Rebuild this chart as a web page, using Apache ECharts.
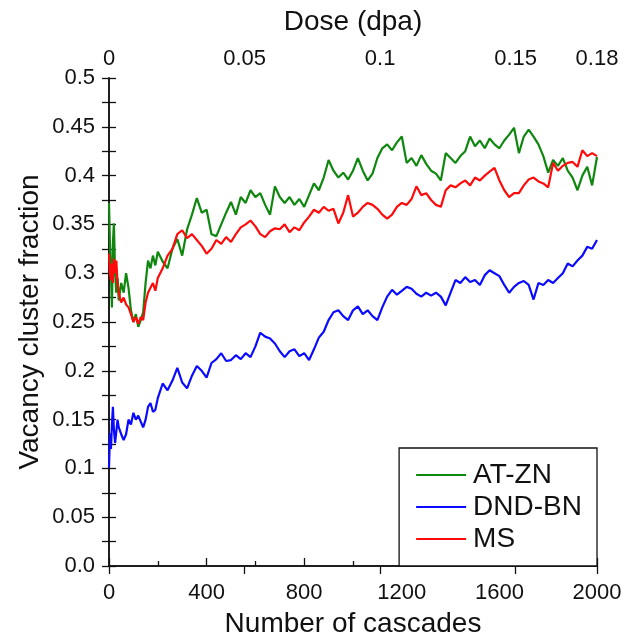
<!DOCTYPE html>
<html>
<head>
<meta charset="utf-8">
<script src="https://cdn.jsdelivr.net/npm/echarts@6/dist/echarts.min.js"></script>
<style>
  html, body { margin: 0; padding: 0; background: #fff; }
</style>
</head>
<body>
<div style="width:624px;height:634px;" id="vac_chart"></div>
<script>
// x positions (number of cascades): finer steps at the start
const cascades = [0, 4, 8, 12, 16, 20, 25, 30, 35];
for (let c = 40; c <= 200; c += 10) cascades.push(c);
for (let c = 220; c <= 2000; c += 20) cascades.push(c);

const atzn = [
  0.372, 0.33, 0.30, 0.265, 0.33, 0.351, 0.30, 0.28, 0.295,
  0.272, 0.29, 0.28, 0.30, 0.285, 0.262, 0.25, 0.258, 0.245, 0.252, 0.26, 0.29, 0.313, 0.305, 0.318, 0.308, 0.322,
  0.312, 0.305, 0.325, 0.335, 0.318, 0.345, 0.36, 0.377, 0.362, 0.365,
  0.34, 0.338, 0.35, 0.362, 0.373, 0.36, 0.378, 0.372, 0.385, 0.378,
  0.382, 0.37, 0.36, 0.389, 0.378, 0.372, 0.378, 0.37, 0.376, 0.368,
  0.38, 0.392, 0.385, 0.398, 0.416, 0.405, 0.398, 0.403, 0.396, 0.405,
  0.418, 0.405, 0.395, 0.402, 0.418, 0.428, 0.432, 0.426, 0.434, 0.44,
  0.413, 0.418, 0.41, 0.421, 0.412, 0.405, 0.402, 0.395, 0.423, 0.418,
  0.413, 0.42, 0.425, 0.44, 0.43, 0.436, 0.428, 0.438, 0.432, 0.428,
  0.436, 0.442, 0.449, 0.423, 0.44, 0.447, 0.44, 0.432, 0.42, 0.403,
  0.416, 0.41, 0.418, 0.405, 0.398, 0.385, 0.40, 0.409, 0.39, 0.419
];
const dndbn = [
  0.101, 0.136, 0.12, 0.145, 0.163, 0.14, 0.126, 0.138, 0.15,
  0.142, 0.135, 0.129, 0.135, 0.15, 0.145, 0.157, 0.15, 0.154, 0.148, 0.142, 0.15, 0.163, 0.167, 0.158, 0.16, 0.172,
  0.187, 0.18, 0.19, 0.203, 0.188, 0.182, 0.195, 0.205, 0.20, 0.193,
  0.208, 0.212, 0.218, 0.21, 0.211, 0.216, 0.212, 0.218, 0.214, 0.225,
  0.239, 0.235, 0.233, 0.228, 0.22, 0.214, 0.22, 0.222, 0.215, 0.218,
  0.211, 0.222, 0.234, 0.24, 0.252, 0.26, 0.262, 0.256, 0.252, 0.262,
  0.266, 0.258, 0.262, 0.256, 0.252, 0.265, 0.276, 0.283, 0.278, 0.282,
  0.286, 0.284, 0.279, 0.276, 0.28, 0.277, 0.28, 0.276, 0.267, 0.28,
  0.293, 0.29, 0.296, 0.291, 0.293, 0.288, 0.298, 0.303, 0.30, 0.297,
  0.288, 0.28, 0.286, 0.29, 0.292, 0.288, 0.273, 0.29, 0.288, 0.293,
  0.29, 0.295, 0.30, 0.31, 0.307, 0.313, 0.318, 0.327, 0.325, 0.334
];
const ms = [
  0.32, 0.30, 0.293, 0.31, 0.29, 0.315, 0.30, 0.313, 0.29,
  0.28, 0.27, 0.275, 0.268, 0.265, 0.258, 0.25, 0.255, 0.248, 0.255, 0.252, 0.27, 0.28, 0.285, 0.29, 0.282, 0.295,
  0.305, 0.318, 0.325, 0.34, 0.344, 0.336, 0.34, 0.334, 0.328, 0.32,
  0.325, 0.334, 0.33, 0.337, 0.332, 0.34, 0.347, 0.35, 0.354, 0.348,
  0.34, 0.337, 0.343, 0.346, 0.345, 0.35, 0.342, 0.347, 0.344, 0.352,
  0.358, 0.365, 0.362, 0.368, 0.364, 0.366, 0.351, 0.362, 0.38, 0.358,
  0.362, 0.368, 0.372, 0.37, 0.366, 0.36, 0.356, 0.36, 0.368, 0.372,
  0.37, 0.376, 0.389, 0.38, 0.382, 0.375, 0.37, 0.368, 0.385, 0.39,
  0.388, 0.392, 0.395, 0.39, 0.398, 0.395, 0.40, 0.404, 0.408, 0.395,
  0.385, 0.378, 0.382, 0.382, 0.39, 0.396, 0.398, 0.394, 0.392, 0.388,
  0.413, 0.405, 0.41, 0.413, 0.414, 0.409, 0.426, 0.42, 0.423, 0.42
];
const doseTicks = [0, 0.05, 0.1, 0.15, 0.18];

function pairs(ys) {
  return cascades.map(function (c, i) { return [c, ys[i]]; });
}

const font = 'Liberation Sans, Arial, sans-serif';
const black = '#111';

const option = {
  animation: false,
  backgroundColor: '#fff',
  textStyle: { fontFamily: font, color: black },
  grid: { left: 109, right: 27, top: 78, bottom: 68, containLabel: false, outerBoundsMode: 'none' },
  legend: {
    orient: 'vertical',
    right: 27,
    bottom: 68,
    padding: [13, 15, 13, 17],
    itemGap: 4,
    itemWidth: 50,
    itemHeight: 2,
    icon: 'rect',
    borderColor: black,
    borderWidth: 1.3,
    backgroundColor: '#fff',
    textStyle: { fontSize: 28, color: black, fontFamily: font, padding: [0, 0, 0, 2] },
    data: ['AT-ZN', 'DND-BN', 'MS']
  },
  xAxis: [
    {
      type: 'value', position: 'bottom',
      min: 0, max: 2000, interval: 400,
      name: 'Number of cascades', nameLocation: 'middle', nameGap: 44, nameMoveOverlap: false,
      nameTextStyle: { fontSize: 28, color: black },
      axisLine: { lineStyle: { color: black, width: 1.5 } },
      axisTick: { inside: true, length: 8, lineStyle: { color: black, width: 1.3 } },
      minorTick: { show: true, splitNumber: 2, length: 5, lineStyle: { color: black, width: 1.3 } },
      axisLabel: { fontSize: 22, color: black, margin: 16, formatter: function (v) { return String(v); } },
      splitLine: { show: false }
    },
    {
      type: 'value', position: 'top',
      min: 0, max: 0.18, interval: 0.05,
      name: 'Dose (dpa)', nameLocation: 'middle', nameGap: 42, nameMoveOverlap: false,
      nameTextStyle: { fontSize: 28, color: black },
      axisLine: { lineStyle: { color: black, width: 1.5 } },
      axisTick: { inside: true, length: 8, customValues: doseTicks, lineStyle: { color: black, width: 1.3 } },
      axisLabel: { fontSize: 22, color: black, margin: 8, customValues: doseTicks },
      minorTick: { show: false },
      splitLine: { show: false }
    }
  ],
  yAxis: [
    {
      type: 'value', position: 'left',
      min: 0, max: 0.5, interval: 0.05,
      name: 'Vacancy cluster fraction', nameLocation: 'middle', nameGap: 65, nameMoveOverlap: false,
      nameTextStyle: { fontSize: 28, color: black },
      axisLine: { show: true, lineStyle: { color: black, width: 1.5 } },
      axisTick: { show: true, inside: true, length: 7, lineStyle: { color: black, width: 1.3 } },
      minorTick: { show: true, splitNumber: 2, length: 7, lineStyle: { color: black, width: 1.3 } },
      axisLabel: {
        fontSize: 22, color: black, margin: 14,
        formatter: function (v) { return v === 0 ? '0.0' : String(Math.round(v * 100) / 100); }
      },
      splitLine: { show: false }
    },
    {
      type: 'value', position: 'right',
      min: 0, max: 0.5, interval: 0.05,
      axisLine: { show: true, lineStyle: { color: black, width: 1.5 } },
      axisTick: { show: true, inside: true, length: 7, lineStyle: { color: black, width: 1.3 } },
      minorTick: { show: true, splitNumber: 2, length: 7, lineStyle: { color: black, width: 1.3 } },
      axisLabel: { show: false },
      splitLine: { show: false }
    }
  ],
  series: [
    { name: 'AT-ZN', type: 'line', data: pairs(atzn), color: '#0f870f', showSymbol: false, symbol: 'none', lineStyle: { width: 2.2 } },
    { name: 'DND-BN', type: 'line', data: pairs(dndbn), color: '#0a0aff', showSymbol: false, symbol: 'none', lineStyle: { width: 2.2 } },
    { name: 'MS', type: 'line', data: pairs(ms), color: '#ff0a0a', showSymbol: false, symbol: 'none', lineStyle: { width: 2.2 } }
  ]
};

const vacChart = echarts.init(document.getElementById('vac_chart'));
vacChart.setOption(option);
window.addEventListener('resize', function () {
  vacChart.resize();
});
</script>
</body>
</html>
